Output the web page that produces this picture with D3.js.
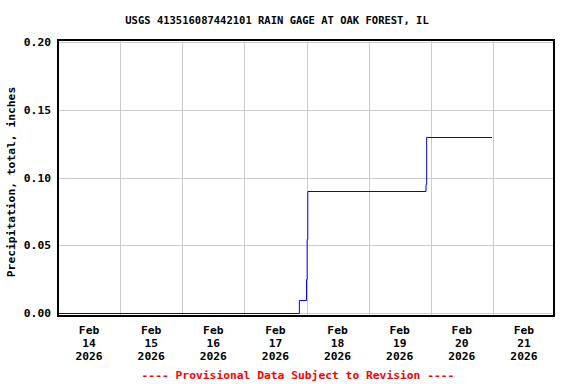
<!DOCTYPE html>
<html lang="en">

<head>
  <meta charset="UTF-8">
  <title>USGS rain gage</title>
  <script src="https://cdn.jsdelivr.net/npm/d3@7"></script>
  <style>
    body { margin: 0; background: #fff; }
    text { font-family: "DejaVu Sans Mono", "Liberation Mono", monospace; font-weight: bold; }
  </style>
</head>

<body>
  <svg width="576" height="384" id="chart"></svg>
  <script>
    // readings (local time) and cumulative precipitation, inches
    const times = ['2026-02-14T00:00', '2026-02-17T21:15', '2026-02-18T00:00', '2026-02-18T00:15',
      '2026-02-18T00:30', '2026-02-19T22:10', '2026-02-19T22:25', '2026-02-20T23:40'];
    const precip = [0, 0.01, 0.025, 0.055, 0.09, 0.095, 0.13, 0.13];
    const yTicks = [0, 0.05, 0.10, 0.15, 0.20];
    const dayTicks = ['2026-02-14', '2026-02-15', '2026-02-16', '2026-02-17',
      '2026-02-18', '2026-02-19', '2026-02-20', '2026-02-21'];
    const title = 'USGS 413516087442101 RAIN GAGE AT OAK FOREST, IL';
    const yLabel = 'Precipitation, total, inches';
    const footer = '---- Provisional Data Subject to Revision ----';

    (() => {
      const parse = d3.timeParse('%Y-%m-%dT%H:%M');
      const parseDay = d3.timeParse('%Y-%m-%d');
      const data = times.map((t, i) => ({ t: parse(t), v: precip[i] }));
      const days = dayTicks.map(parseDay);

      const pl = 58, pr = 555, pt = 40, pb = 316; // plot box
      const svg = d3.select('#chart');

      const x = d3.scaleTime()
        .domain([days[0], d3.timeDay.offset(days[days.length - 1], 1)])
        .range([pl, pr]);
      const y = d3.scaleLinear().domain([-0.002, 0.2015]).range([pb, pt]);

      // grid
      const grid = svg.append('g').attr('stroke', '#cccccc').attr('stroke-width', 1);
      grid.selectAll('.vg').data(days.slice(1)).enter().append('line')
        .attr('x1', d => Math.round(x(d)) + 0.5).attr('x2', d => Math.round(x(d)) + 0.5)
        .attr('y1', pt).attr('y2', pb);
      grid.selectAll('.hg').data(yTicks).enter().append('line')
        .attr('x1', pl).attr('x2', pr)
        .attr('y1', d => Math.round(y(d)) + 0.5).attr('y2', d => Math.round(y(d)) + 0.5);

      // step line
      const line = d3.line()
        .x(d => x(d.t))
        .y(d => Math.round(y(d.v)) + 0.5)
        .curve(d3.curveStepAfter);
      svg.append('path').datum(data)
        .attr('d', line)
        .attr('fill', 'none')
        .attr('stroke', '#0000ff')
        .attr('stroke-width', 1);

      // frame
      svg.append('rect')
        .attr('x', pl).attr('y', pt)
        .attr('width', pr - pl - 1).attr('height', pb - pt)
        .attr('fill', 'none').attr('stroke', '#000').attr('stroke-width', 2);

      // y tick labels
      svg.selectAll('.yl').data(yTicks).enter().append('text')
        .attr('x', 51).attr('y', d => y(d))
        .attr('dy', '0.35em')
        .attr('text-anchor', 'end')
        .attr('font-size', '11.3px')
        .text(d => d3.format('.2f')(d));

      // x tick labels, centred on noon
      const xl = svg.selectAll('.xl').data(days).enter().append('text')
        .attr('text-anchor', 'middle')
        .attr('font-size', '11.3px')
        .attr('transform', d => `translate(${x(d3.timeHour.offset(d, 12))}, 334)`);
      xl.append('tspan').attr('x', 0).attr('y', 0).text(d3.timeFormat('%b'));
      xl.append('tspan').attr('x', 0).attr('y', 13).text(d3.timeFormat('%d'));
      xl.append('tspan').attr('x', 0).attr('y', 26).text(d3.timeFormat('%Y'));

      svg.append('text')
        .attr('x', 277).attr('y', 24)
        .attr('text-anchor', 'middle')
        .attr('font-size', '10.5px')
        .text(title);

      svg.append('text')
        .attr('transform', 'translate(15, 182) rotate(-90)')
        .attr('text-anchor', 'middle')
        .attr('font-size', '11.3px')
        .text(yLabel);

      svg.append('text')
        .attr('x', 298).attr('y', 379)
        .attr('text-anchor', 'middle')
        .attr('font-size', '11.3px')
        .attr('fill', '#ff0000')
        .text(footer);
    })();
  </script>
</body>

</html>
